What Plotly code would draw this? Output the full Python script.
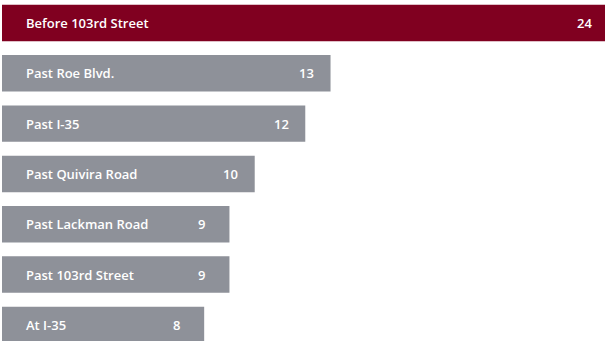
import plotly.graph_objects as go

# Bar labels and counts, top to bottom
categories = [
    "Before 103rd Street",
    "Past Roe Blvd.",
    "Past I-35",
    "Past Quivira Road",
    "Past Lackman Road",
    "Past 103rd Street",
    "At I-35",
]
values = [24, 13, 12, 10, 9, 9, 8]

HIGHLIGHT = "#800020"
MUTED = "#8e9199"
colors = [HIGHLIGHT] + [MUTED] * (len(values) - 1)

FONT = dict(family="Open Sans, sans-serif", size=13, color="white", weight=600)

fig = go.Figure(
    go.Bar(
        x=values,
        y=categories,
        orientation="h",
        width=0.725,
        marker=dict(color=colors, line=dict(width=0)),
        hoverinfo="skip",
        cliponaxis=True,
    )
)

annotations = []
for cat, val in zip(categories, values):
    # category name at the left inside the bar
    annotations.append(dict(
        x=0, y=cat, xref="x", yref="y", text=cat, showarrow=False,
        xanchor="left", yanchor="middle", xshift=22, font=FONT,
    ))
    # value near the bar's end (anchored one unit back so the longest
    # bar's label stays inside the visible axis range)
    annotations.append(dict(
        x=val - 1, y=cat, xref="x", yref="y", text=str(val), showarrow=False,
        xanchor="left", yanchor="middle", xshift=-8, font=FONT,
    ))

fig.update_layout(
    width=605,
    height=341,
    margin=dict(l=2, r=0, t=0, b=0),
    paper_bgcolor="white",
    plot_bgcolor="white",
    showlegend=False,
    annotations=annotations,
    xaxis=dict(range=[0, 23.86], visible=False, fixedrange=True),
    yaxis=dict(range=[6.32, -0.457], visible=False, fixedrange=True,
               categoryorder="array", categoryarray=categories),
)

fig.write_html("out.html")
